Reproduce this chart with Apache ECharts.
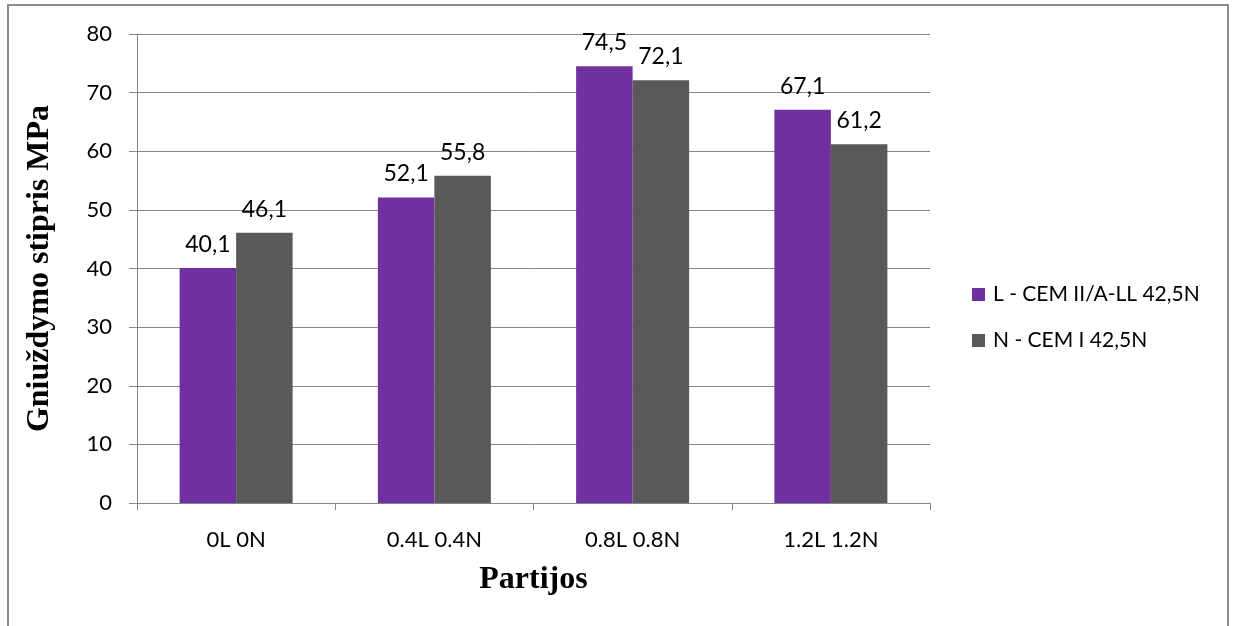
<!DOCTYPE html>
<html>
<head>
<meta charset="utf-8">
<script src="https://cdn.jsdelivr.net/npm/echarts@6/dist/echarts.min.js"></script>
<style>
  html, body { margin: 0; padding: 0; background: #fff; }
  #chart { width: 1234px; height: 626px; }
</style>
</head>
<body>
<div id="chart"></div>
<script>
// Compressive strength per batch, two cement types
const categories = ['0L 0N', '0.4L 0.4N', '0.8L 0.8N', '1.2L 1.2N'];
const seriesNames = ['L - CEM II/A-LL 42,5N', 'N - CEM I 42,5N'];
const valuesL = [40.1, 52.1, 74.5, 67.1];
const valuesN = [46.1, 55.8, 72.1, 61.2];
const colors = ['#7030A0', '#595959'];

const labelFont = 'Lato, "Open Sans", sans-serif';
const titleFont = '"Liberation Serif", "DejaVu Serif", serif';
const axisGrey = '#868686';

const chart = echarts.init(document.getElementById('chart'), null, { renderer: 'canvas' });

function barSeries(name, data, color) {
  return {
    name: name,
    type: 'bar',
    data: data,
    itemStyle: { color: color },
    barGap: '0%',
    barCategoryGap: '43%',
    label: {
      show: true,
      position: 'top',
      distance: 12,
      color: '#000',
      fontFamily: labelFont,
      fontSize: 23,
      formatter: p => String(p.value).replace('.', ',')
    }
  };
}

chart.setOption({
  animation: false,
  backgroundColor: '#fff',
  graphic: [{
    type: 'rect',
    shape: { x: 8, y: 5, width: 1220, height: 700 },
    style: { fill: 'none', stroke: '#8c8c8c', lineWidth: 2 },
    silent: true
  }],
  grid: { left: 137, right: 304, top: 34, bottom: 123 },
  legend: {
    orient: 'vertical',
    left: 972,
    top: 284,
    padding: 0,
    itemWidth: 13,
    itemHeight: 13,
    itemGap: 25,
    icon: 'rect',
    textStyle: { color: '#000', fontFamily: labelFont, fontSize: 21, padding: [0, 0, 0, 3] },
    data: seriesNames
  },
  xAxis: {
    type: 'category',
    data: categories,
    boundaryGap: true,
    name: 'Partijos',
    nameLocation: 'middle',
    nameGap: 61,
    nameTextStyle: { color: '#000', fontFamily: titleFont, fontSize: 32, fontWeight: 'bold' },
    axisLine: { show: true, lineStyle: { color: axisGrey, width: 1 } },
    axisTick: { show: true, alignWithLabel: false, length: 7, lineStyle: { color: axisGrey } },
    axisLabel: { color: '#000', fontFamily: labelFont, fontSize: 22, margin: 26 },
    splitLine: { show: false }
  },
  yAxis: {
    type: 'value',
    min: 0,
    max: 80,
    interval: 10,
    name: 'Gniuždymo stipris MPa',
    nameLocation: 'middle',
    nameGap: 81,
    nameRotate: 90,
    nameTextStyle: { color: '#000', fontFamily: titleFont, fontSize: 32, fontWeight: 'bold' },
    axisLine: { show: true, lineStyle: { color: axisGrey, width: 1 } },
    axisTick: { show: true, length: 8, lineStyle: { color: axisGrey } },
    axisLabel: { color: '#000', fontFamily: labelFont, fontSize: 22, margin: 25 },
    splitLine: { show: true, lineStyle: { color: axisGrey, width: 1 } }
  },
  series: [
    barSeries(seriesNames[0], valuesL, colors[0]),
    barSeries(seriesNames[1], valuesN, colors[1])
  ]
});
</script>
</body>
</html>
